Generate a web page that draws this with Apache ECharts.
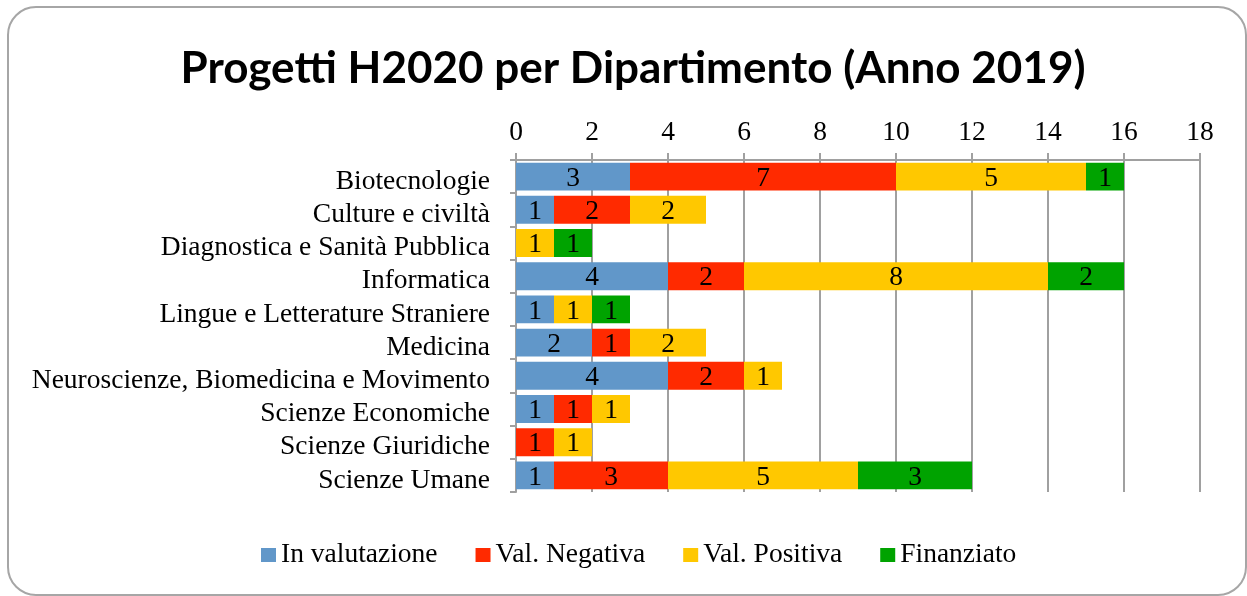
<!DOCTYPE html>
<html lang="it">
<head>
    <meta charset="UTF-8">
    <title>Progetti H2020 per Dipartimento (Anno 2019)</title>
    <script src="https://cdnjs.cloudflare.com/ajax/libs/echarts/6.0.0/echarts.min.js"></script>
    <style>
        html, body { margin: 0; padding: 0; background: #fff; }
    </style>
</head>
<body>
    <div id="myChart" style="width: 1247px;height: 596px;"></div>

    <script>
        // dati
        const dipartimenti = [
            'Biotecnologie',
            'Culture e civiltà',
            'Diagnostica e Sanità Pubblica',
            'Informatica',
            'Lingue e Letterature Straniere',
            'Medicina',
            'Neuroscienze, Biomedicina e Movimento',
            'Scienze Economiche',
            'Scienze Giuridiche',
            'Scienze Umane'
        ];
        const inValutazione = [3, 1, 0, 4, 1, 2, 4, 1, 0, 1];
        const valNegativa   = [7, 2, 0, 2, 0, 1, 2, 1, 1, 3];
        const valPositiva   = [5, 2, 1, 8, 1, 2, 1, 1, 1, 5];
        const finanziato    = [1, 0, 1, 2, 1, 0, 0, 0, 0, 3];

        const serif = '"Liberation Serif", "DejaVu Serif", serif';

        function serie(nome, valori, colore) {
            return {
                name: nome,
                type: 'bar',
                stack: 'tot',
                data: valori,
                barCategoryGap: '16%',
                itemStyle: { color: colore },
                label: {
                    show: true,
                    position: 'inside',
                    offset: [0, 2],
                    color: '#000',
                    fontFamily: serif,
                    fontSize: 27.5,
                    formatter: p => (p.value ? p.value : '')
                }
            };
        }

        const chartDom = document.getElementById('myChart');
        const myChart = echarts.init(chartDom);
        const option = {
            animation: false,
            title: {
                text: 'Progetti H2020 per Dipartimento (Anno 2019)',
                left: 628,
                top: 42,
                textAlign: 'center',
                textStyle: {
                    fontFamily: 'Lato, "Open Sans", sans-serif',
                    fontWeight: 'bold',
                    fontSize: 44,
                    color: '#000'
                }
            },
            graphic: [{
                type: 'rect',
                shape: { x: 8, y: 7, width: 1238, height: 588, r: 28 },
                style: { fill: 'none', stroke: '#a6a6a6', lineWidth: 2 },
                silent: true,
                z: -1
            }],
            legend: {
                data: ['In valutazione', 'Val. Negativa', 'Val. Positiva', 'Finanziato'],
                bottom: 22,
                left: 256,
                icon: 'rect',
                itemWidth: 15,
                itemHeight: 14,
                itemGap: 38,
                textStyle: { fontFamily: serif, fontSize: 27.5, color: '#000' }
            },
            grid: {
                left: 516,
                right: 47,
                top: 160,
                bottom: 104,
                containLabel: false
            },
            xAxis: {
                type: 'value',
                position: 'top',
                min: 0,
                max: 18,
                interval: 2,
                axisLine: { show: true, lineStyle: { color: '#a0a0a0', width: 2 } },
                axisTick: { show: true, length: 7, lineStyle: { color: '#a0a0a0', width: 2 } },
                axisLabel: { fontFamily: serif, fontSize: 27.5, color: '#000', margin: 13 },
                splitLine: { show: true, lineStyle: { color: '#a0a0a0', width: 2 } }
            },
            yAxis: {
                type: 'category',
                inverse: true,
                data: dipartimenti,
                axisLine: { show: true, lineStyle: { color: '#a0a0a0', width: 2 } },
                axisTick: { show: true, length: 6, lineStyle: { color: '#a0a0a0', width: 2 } },
                axisLabel: {
                    margin: 26,
                    interval: 0,
                    formatter: v => '{a|' + v + '}',
                    rich: {
                        a: { fontFamily: serif, fontSize: 27.5, color: '#000', padding: [10, 0, 0, 0] }
                    }
                }
            },
            series: [
                serie('In valutazione', inValutazione, '#6197c9'),
                serie('Val. Negativa', valNegativa, '#ff2a00'),
                serie('Val. Positiva', valPositiva, '#ffc800'),
                serie('Finanziato', finanziato, '#00a300')
            ]
        };
        myChart.setOption(option);
    </script>
</body>
</html>
